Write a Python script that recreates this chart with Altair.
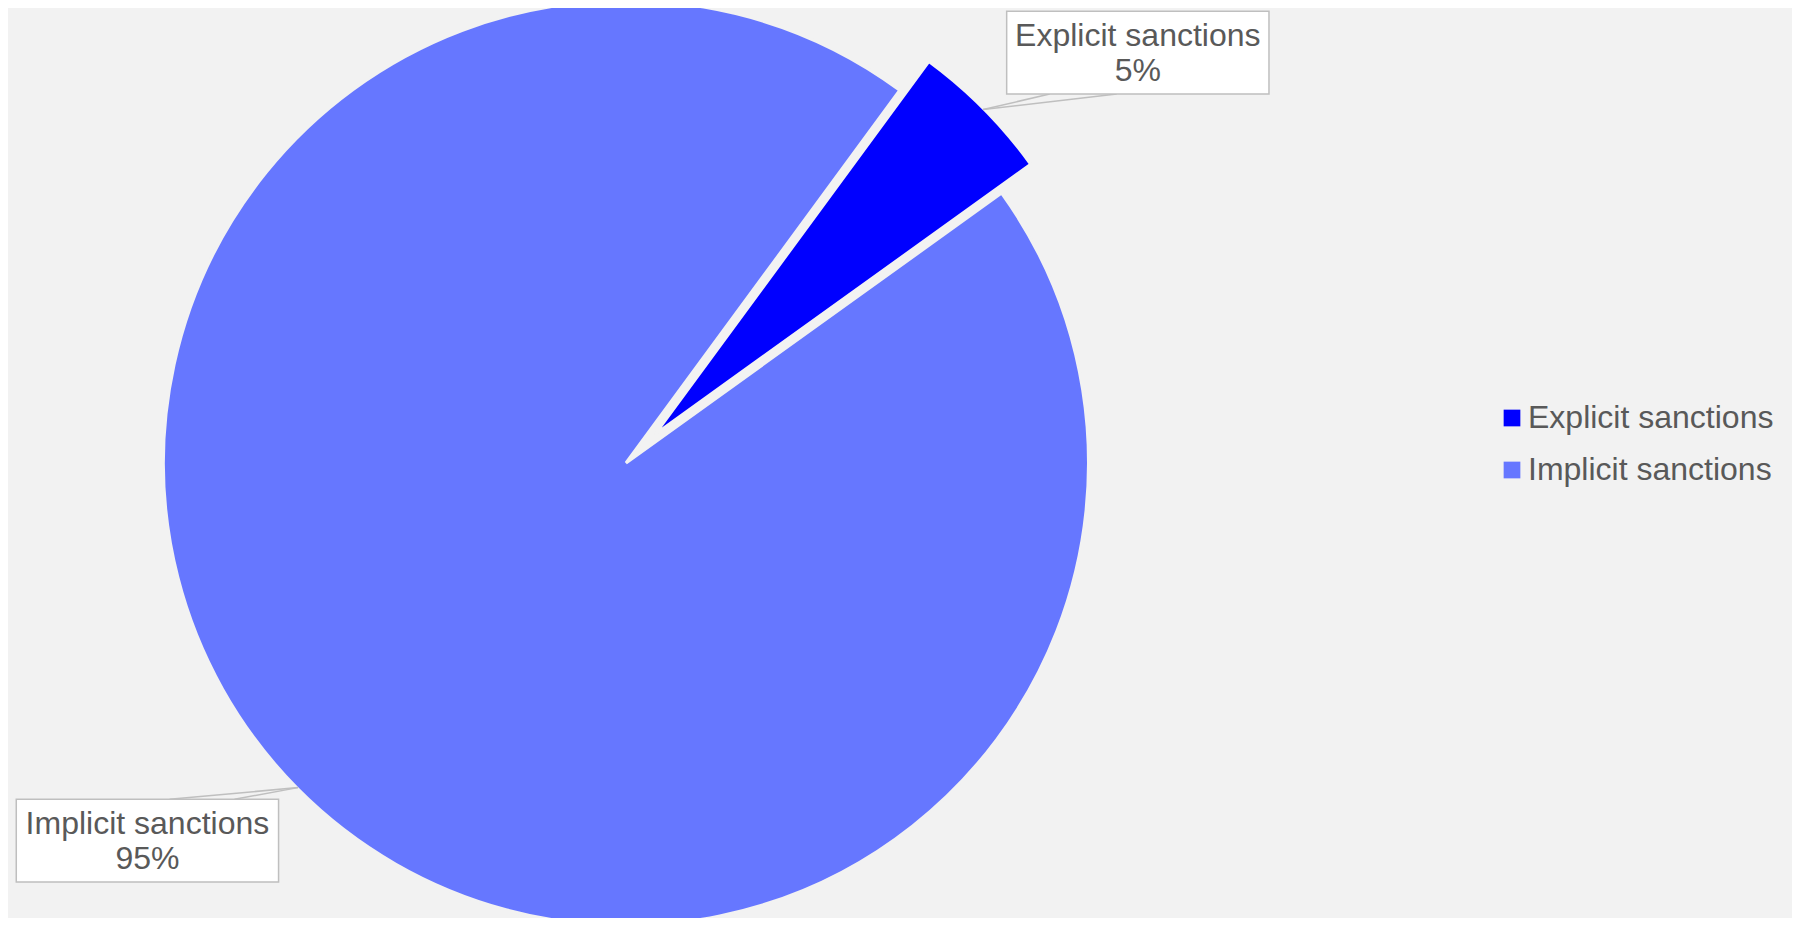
import math
import altair as alt
import pandas as pd

# ---- data ----
categories = ["Explicit sanctions", "Implicit sanctions"]
shares = [5, 95]
colors = ["#0000ff", "#6677ff"]

# ---- layout / style ----
BG = "#f2f2f2"
TXT = "#595959"
LINE = "#bfbfbf"
FONT = "Liberation Sans"
W, H = 1784, 910
CX, CY = 618, 455
R = 462.5
EXPLODE = 41
START_DEG = 36.3
BOX_W, BOX_H = 262.3, 82.7

total = sum(shares)
start_rad = math.radians(START_DEG)

df = pd.DataFrame({"category": categories, "share": shares, "order": list(range(len(categories)))})

# label callouts anchored at each slice's mid angle
rows_box, rows_line, rows_txt = [], [], []
cum = 0
for i, (cat, s) in enumerate(zip(categories, shares)):
    mid = start_rad + (cum + s / 2) / total * 2 * math.pi
    cum += s
    ex = EXPLODE if i == 0 else 0
    cx = CX + ex * math.sin(mid)
    cy = CY - ex * math.cos(mid)
    tx = cx + (R - 1) * math.sin(mid)
    ty = cy - (R - 1) * math.cos(mid)
    if tx > CX:
        left = tx + 23.5
        bottom = ty - 15.5
        top = bottom - BOX_H
        bases = [(left + 43, bottom), (left + 110, bottom)]
    else:
        right = tx - 19.4
        left = right - BOX_W
        top = ty + 11.7
        bases = [(right - 109, top), (right - 44, top)]
    rows_box.append({"x0": left, "x1": left + BOX_W, "y0": top, "y1": top + BOX_H})
    for bx, by in bases:
        rows_line.append({"x0": bx, "y0": by, "x1": tx, "y1": ty})
    pct = f"{round(s / total * 100)}%"
    rows_txt.append({"x": left + BOX_W / 2, "y": top + 34.5, "t": cat})
    rows_txt.append({"x": left + BOX_W / 2, "y": top + 70, "t": pct})

color_scale = alt.Scale(domain=categories, range=colors)
legend = alt.Legend(
    orient="none", legendX=1488, legendY=394, title=None,
    symbolType="square", symbolSize=279, symbolStrokeWidth=0,
    labelFontSize=32, labelFont=FONT, labelColor=TXT, labelOffset=0,
    labelLimit=0, rowPadding=20, padding=0,
)
theta_scale = alt.Scale(domain=[0, total], range=[start_rad, start_rad + 2 * math.pi])

base = alt.Chart(df).transform_stack(
    stack="share", groupby=[], as_=["s0", "s1"],
    sort=[alt.SortField("order", order="ascending")],
)

def slice_layer(idx, cx, cy):
    return base.transform_filter(alt.datum.category == categories[idx]).mark_arc(
        outerRadius=R, stroke=BG, strokeWidth=3
    ).encode(
        theta=alt.Theta("s0:Q", scale=theta_scale),
        theta2="s1:Q",
        color=alt.Color("category:N", scale=color_scale, legend=legend),
        x=alt.value(cx), y=alt.value(cy),
    )

emid = start_rad + shares[0] / 2 / total * 2 * math.pi
implicit = slice_layer(1, CX, CY)
explicit = slice_layer(0, CX + EXPLODE * math.sin(emid), CY - EXPLODE * math.cos(emid))

lines = alt.Chart(pd.DataFrame(rows_line)).mark_rule(color=LINE, strokeWidth=1.5).encode(
    x=alt.X("x0:Q", scale=None), y=alt.Y("y0:Q", scale=None),
    x2="x1:Q", y2="y1:Q",
)
boxes = alt.Chart(pd.DataFrame(rows_box)).mark_rect(fill="white", stroke=LINE, strokeWidth=1.5).encode(
    x=alt.X("x0:Q", scale=None), x2="x1:Q",
    y=alt.Y("y0:Q", scale=None), y2="y1:Q",
)
texts = alt.Chart(pd.DataFrame(rows_txt)).mark_text(
    font=FONT, fontSize=32, color=TXT, align="center", baseline="alphabetic"
).encode(
    x=alt.X("x:Q", scale=None), y=alt.Y("y:Q", scale=None), text="t:N",
)

chart = alt.layer(implicit, explicit, lines, boxes, texts).properties(
    width=W, height=H, padding=0, autosize=alt.AutoSizeParams(type="none"),
    background=BG,
).configure_view(stroke=None)

chart.save("out.html", embed_options={"renderer": "svg", "actions": False})
